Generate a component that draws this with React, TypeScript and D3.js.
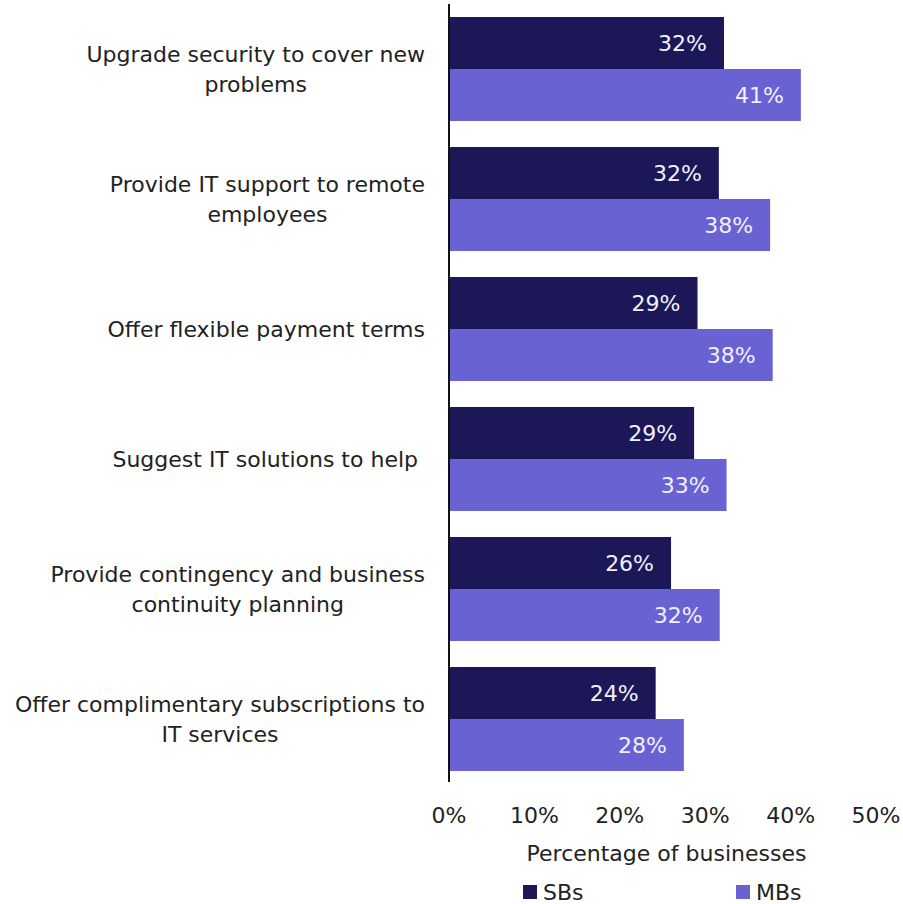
import { useEffect, useRef } from 'react'
import * as d3 from 'd3'

// --- DATA ---
const categories = [
  ['Upgrade security to cover new', 'problems'],
  ['Provide IT support to remote', 'employees'],
  ['Offer flexible payment terms'],
  ['Suggest IT solutions to help '],
  ['Provide contingency and business', 'continuity planning'],
  ['Offer complimentary subscriptions to', 'IT services'],
]
const sbValues = [32.2, 31.6, 29.1, 28.7, 26.0, 24.2]
const mbValues = [41.2, 37.6, 37.9, 32.5, 31.7, 27.5]
const seriesNames = ['SBs', 'MBs']
const xTicks = [0, 10, 20, 30, 40, 50]

const COLORS = ['#1c1858', '#6962d3']
const FONT = "'DejaVu Sans', Verdana, sans-serif"

export default function App() {
  const svgRef = useRef<SVGSVGElement | null>(null)

  useEffect(() => {
    if (!svgRef.current) return
    const width = 903
    const height = 904
    const svg = d3.select(svgRef.current)
    svg.selectAll('*').remove()
    svg.attr('width', width).attr('height', height)

    const root = svg.append('g').attr('transform', 'translate(8,8)')

    const left = 441
    const right = 868
    const top = -4
    const bottom = 776

    const x = d3.scaleLinear().domain([0, 50]).range([left, right])
    const y = d3
      .scaleBand<number>()
      .domain(d3.range(categories.length))
      .range([top, bottom])
      .paddingInner(0.2)
      .paddingOuter(0.1)
    const sub = d3.scaleBand<number>().domain([0, 1]).range([0, y.bandwidth()])

    const groups = root
      .selectAll('g.grp')
      .data(categories.map((c, i) => ({ c, i })))
      .enter()
      .append('g')
      .attr('class', 'grp')
      .attr('transform', (d) => `translate(0,${y(d.i)})`)

    ;[sbValues, mbValues].forEach((vals, s) => {
      groups
        .append('rect')
        .attr('x', x(0))
        .attr('y', sub(s)!)
        .attr('width', (d) => x(vals[d.i]) - x(0))
        .attr('height', sub.bandwidth())
        .attr('fill', COLORS[s])

      groups
        .append('text')
        .attr('x', (d) => x(vals[d.i]) - 17)
        .attr('y', sub(s)! + sub.bandwidth() / 2)
        .attr('dy', '0.36em')
        .attr('text-anchor', 'end')
        .attr('fill', '#f2f0ff')
        .style('font-family', FONT)
        .style('font-size', '22px')
        .text((d) => `${Math.round(vals[d.i])}%`)
    })

    // category labels, block right-aligned, lines centered
    const lineH = 30
    groups.each(function (d) {
      const g = d3.select(this)
      const cy = y.bandwidth() / 2
      const t = g
        .append('text')
        .attr('text-anchor', 'middle')
        .attr('fill', '#222')
        .style('font-family', FONT)
        .style('font-size', '22px')
        .style('white-space', 'pre')
      const n = d.c.length
      const spans = d.c.map((line, k) =>
        t
          .append('tspan')
          .attr('y', cy + (k - (n - 1) / 2) * lineH)
          .attr('dy', '0.36em')
          .text(line)
      )
      const maxW = d3.max(spans, (sp) => (sp.node() as SVGTSpanElement).getComputedTextLength()) || 0
      spans.forEach((sp) => sp.attr('x', 425 - 8 - maxW / 2))
    })

    // axis line
    root
      .append('line')
      .attr('x1', x(0))
      .attr('x2', x(0))
      .attr('y1', -4)
      .attr('y2', 774)
      .attr('stroke', '#111')
      .attr('stroke-width', 2)

    // tick labels
    root
      .selectAll('text.tick')
      .data(xTicks)
      .enter()
      .append('text')
      .attr('class', 'tick')
      .attr('x', (d) => x(d))
      .attr('y', 807)
      .attr('dy', '0.36em')
      .attr('text-anchor', 'middle')
      .attr('fill', '#222')
      .style('font-family', FONT)
      .style('font-size', '22px')
      .text((d) => `${d}%`)

    root
      .append('text')
      .attr('x', (left + right) / 2 + 4)
      .attr('y', 845)
      .attr('dy', '0.36em')
      .attr('text-anchor', 'middle')
      .attr('fill', '#222')
      .style('font-family', FONT)
      .style('font-size', '22px')
      .text('Percentage of businesses')

    // legend
    const legendX = [515, 728]
    seriesNames.forEach((name, s) => {
      root
        .append('rect')
        .attr('x', legendX[s])
        .attr('y', 877)
        .attr('width', 14)
        .attr('height', 14)
        .attr('fill', COLORS[s])
      root
        .append('text')
        .attr('x', legendX[s] + 20)
        .attr('y', 884)
        .attr('dy', '0.36em')
        .attr('fill', '#222')
        .style('font-family', FONT)
        .style('font-size', '22px')
        .text(name)
    })
  }, [])

  return (
    <svg
      ref={svgRef}
      style={{ display: 'block', position: 'absolute', left: 0, top: 0 }}
    />
  )
}
